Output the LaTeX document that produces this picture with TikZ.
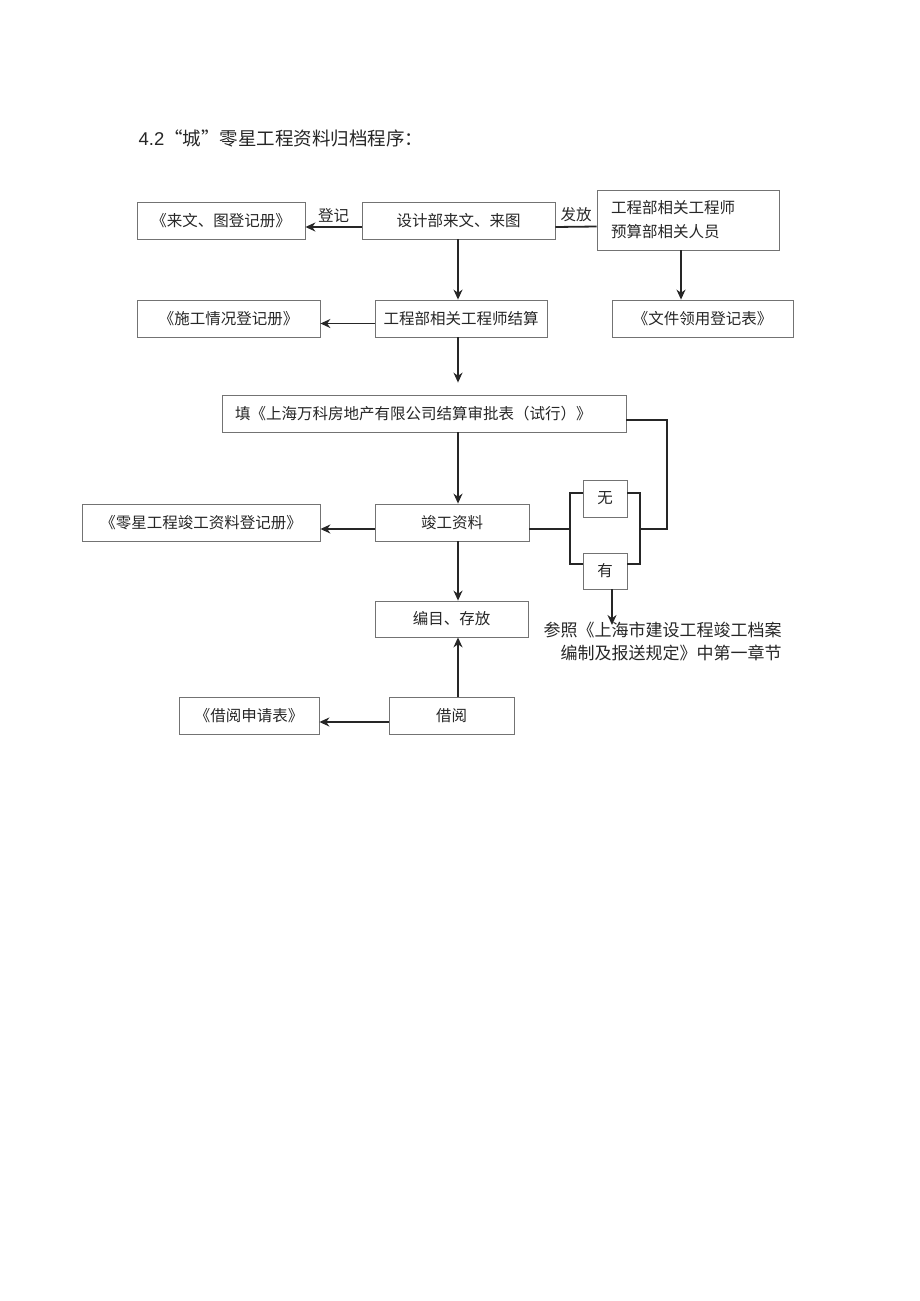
\documentclass[tikz,border=0pt]{standalone}
\usepackage{fontspec}
\newfontfamily\cjk{Noto Sans CJK SC}
\newfontfamily\latin{Liberation Sans}
\usetikzlibrary{arrows.meta, positioning}

\begin{document}
\begin{tikzpicture}[> = {Stealth[length=10pt, width=9pt]}, % arrow head style
                x = 1pt, y = -1pt, % pixel units, y goes down
                semithick % line style
            ]

            \tikzstyle{every node}=[font=\cjk\fontsize{15.5}{24}\selectfont, text=black!85]
            \tikzstyle{box}=[draw = black!55, line width = 0.8pt, rectangle,
            inner sep = 0pt, minimum height = 37pt]
            \tikzstyle{link}=[draw = black!85, line width = 1.8pt]
            \tikzstyle{tag}=[above = 4pt, inner sep = 0pt]

            \useasboundingbox (0,0) rectangle (920,1301);

            \node[anchor=west, font=\fontsize{18.5}{22}\selectfont] (title) at (135,138)
            {{\latin 4.2}{\cjk “城”零星工程资料归档程序：}};

            % first row
            \node[box, minimum width=168pt] (reg1) at (221,220.5) {《来文、图登记册》};
            \node[box, minimum width=193pt] (design) at (458.5,220.5) {设计部来文、来图};
            \node[box, minimum width=182pt, minimum height=60pt, text width=154pt,
            align=left] (eng) at (688,220) {工程部相关工程师\\预算部相关人员};

            % second row
            \node[box, minimum width=183pt] (reg2) at (228.5,318.5) {《施工情况登记册》};
            \node[box, minimum width=172pt] (settle) at (461,318.5) {工程部相关工程师结算};
            \node[box, minimum width=181pt] (filereg) at (702.5,318.5) {《文件领用登记表》};

            \node[box, minimum width=404pt, text width=378pt, align=left] (form)
            at (424,413.5) {填《上海万科房地产有限公司结算审批表（试行）》};

            \node[box, minimum width=238pt] (reg3) at (201,522.5) {《零星工程竣工资料登记册》};
            \node[box, minimum width=154pt] (done) at (452,522.5) {竣工资料};
            \node[box, minimum width=44pt] (no) at (605,498.5) {无};
            \node[box, minimum width=44pt, minimum height=36pt] (yes) at (605,571) {有};

            \node[box, minimum width=153pt, minimum height=36pt] (store) at (451.5,619) {编目、存放};
            \node[align=right, anchor=north east, inner sep=0pt,
            font=\cjk\fontsize{17}{23}\selectfont] (note) at (782,622)
            {参照《上海市建设工程竣工档案\\编制及报送规定》中第一章节};

            \node[box, minimum width=140pt] (apply) at (249,715.5) {《借阅申请表》};
            \node[box, minimum width=125pt] (borrow) at (451.5,715.5) {借阅};

            \coordinate (spine) at (458,0);
            \coordinate (jl) at (570,529);
            \coordinate (jr) at (640,529);
            \coordinate (back) at (667,529);
            \coordinate (ref) at (612,625);

            \draw[link, ->] ([yshift=-6.5pt]design.west) -- ([yshift=-6.5pt]reg1.east)
            node[tag, midway] {登记};
            \draw[link] ([yshift=-6.5pt]design.east) -- ([yshift=-6.5pt]eng.west)
            node[tag, midway] {发放};
            \draw[link, ->] ([xshift=-7pt]eng.south) -- ([xshift=-7pt]eng.south |- filereg.north);
            \draw[link, ->] ([yshift=-5pt]settle.west) -- ([yshift=-5pt]reg2.east);

            \draw[link, ->] (spine |- design.south) -- (spine |- settle.north);
            \draw[link, ->, shorten >= 12pt] (spine |- settle.south) -- (spine |- form.north);
            \draw[link, ->] (spine |- form.south) -- (spine |- done.north);
            \draw[link, ->] (spine |- done.south) -- (spine |- store.north);
            \draw[link, ->] (spine |- borrow.north) -- (spine |- store.south);

            \draw[link, ->] ([yshift=-6.5pt]done.west) -- ([yshift=-6.5pt]reg3.east);
            \draw[link, ->] ([yshift=-6.5pt]borrow.west) -- ([yshift=-6.5pt]apply.east);

            \draw[link] ([yshift=-6.5pt]done.east) -- (jl);
            \draw[link] ([yshift=5.5pt]no.west) -| (jl) |- ([yshift=7pt]yes.west);
            \draw[link] ([yshift=5.5pt]no.east) -| (jr) |- ([yshift=7pt]yes.east);
            \draw[link] ([yshift=-6.5pt]form.east) -| (back) -- (jr);
            \draw[link, ->] ([xshift=7pt]yes.south) -- (ref);
        \end{tikzpicture}
\end{document}
